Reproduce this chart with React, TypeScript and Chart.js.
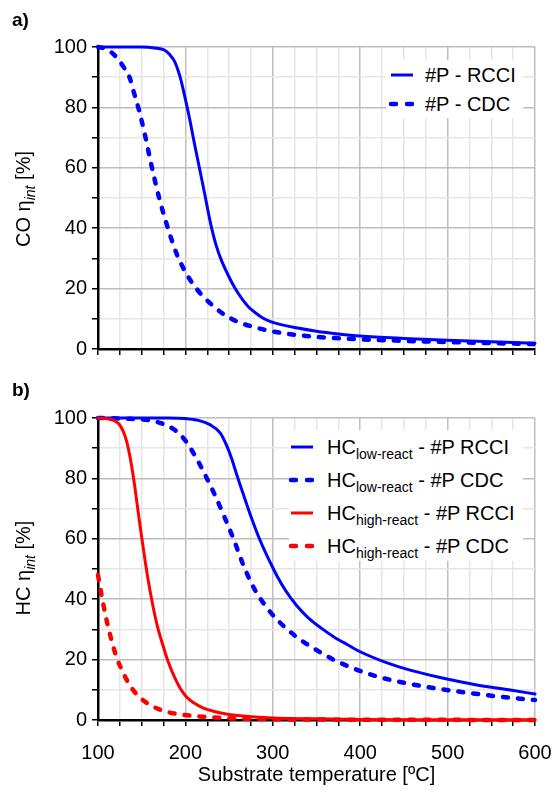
import React, { useEffect, useRef } from 'react';
import { Chart, registerables } from 'chart.js';

Chart.register(...registerables);

const FONT = '"Liberation Sans", Arial, Helvetica, sans-serif';
const BLUE = '#0000ff';
const RED = '#ff0000';

// ---- Panel a) CO ----
const coRcciT = [100, 150, 165, 176, 182, 188, 194, 199, 205, 210, 216, 222, 226, 230, 235, 241, 248, 257, 265, 272, 280, 289, 300, 312, 325, 350, 375, 400, 450, 500, 550, 600];
const coRcciV = [100, 100, 99.7, 99, 97.5, 95, 90, 84, 76, 68.5, 60, 51.5, 45.5, 40, 34.5, 29.5, 25, 20, 16.5, 14, 12, 10.2, 8.8, 7.9, 7.1, 5.9, 5, 4.3, 3.5, 2.9, 2.4, 1.9];
const coCdcT = [100, 108, 115, 122, 129, 136, 141, 147, 154, 161, 170, 180, 190, 200, 210, 220, 232, 245, 260, 278, 293, 320, 350, 400, 450, 500, 550, 600];
const coCdcV = [100, 99.5, 98.3, 96.3, 93.5, 90, 85, 79, 70.5, 61, 50, 40, 31.5, 25.5, 21, 17.5, 14.2, 11.3, 9, 7.3, 6.2, 4.9, 4, 3.2, 2.7, 2.3, 1.95, 1.65];

// ---- Panel b) HC ----
const hcLowRcciT = [100, 180, 200, 215, 228, 240, 247, 253, 259, 265, 271, 277, 284, 290, 297, 305, 315, 327, 340, 355, 370, 385, 400, 430, 456, 494, 532, 570, 600];
const hcLowRcciV = [100, 100, 99.8, 99.2, 97.8, 95, 91, 86.5, 81, 75.8, 70.7, 65.8, 60.5, 56.5, 52.2, 47.6, 42.7, 38, 34, 30.5, 27.5, 25, 22.6, 19, 16.6, 13.9, 11.7, 10, 8.6];
const hcLowCdcT = [100, 130, 158, 173, 188, 200, 211, 222, 234, 245, 255, 266, 276, 285, 295, 305, 315, 328, 342, 368, 395, 422, 449, 475, 502, 532, 563, 600];
const hcLowCdcV = [100, 99.8, 99.3, 98.2, 96, 92.5, 87.5, 81.5, 74.3, 67, 60, 51.5, 45, 40.5, 36.5, 33.2, 30.4, 27.3, 24.6, 20.2, 16.8, 14.2, 12.4, 11, 9.8, 8.7, 7.6, 6.6];
const hcHighRcciT = [100, 110, 118, 124, 129, 133, 137, 141, 145, 149, 153, 157, 162, 168, 174, 180, 187, 194, 201, 210, 220, 232, 245, 260, 280, 300, 350, 400, 500, 600];
const hcHighRcciV = [100, 99.8, 99.2, 98, 95.5, 92, 86.5, 79.5, 71, 62.5, 54.5, 47, 39, 31, 25, 19.5, 14.5, 10.5, 7.7, 5.6, 4, 2.9, 2.1, 1.5, 1, 0.7, 0.4, 0.2, 0.1, 0.05];
const hcHighCdcT = [100, 104, 108, 114, 121, 129, 136, 144, 156, 173, 190, 220, 250, 300, 400, 500, 600];
const hcHighCdcV = [48, 41.5, 35.5, 28, 21, 15.5, 11.7, 8.6, 5.6, 3.2, 2, 1.1, 0.6, 0.25, 0.1, 0.05, 0.02];

// ---- Axes ----
const xMin = 100;
const xMax = 600;
const xStep = 25;
const xLabelStep = 100;
const yMin = 0;
const yMax = 100;
const yStep = 10;
const yLabelStep = 20;

const xTitle = 'Substrate temperature [ºC]';

function pts(t: number[], v: number[]) {
  return t.map((x, i) => ({ x, y: v[i] }));
}

function ds(t: number[], v: number[], color: string, dashed: boolean) {
  return {
    data: pts(t, v),
    borderColor: color,
    backgroundColor: color,
    borderWidth: dashed ? 4.5 : 3,
    borderDash: dashed ? [5, 10] : [],
    borderCapStyle: 'round' as const,
    borderJoinStyle: 'round' as const,
    cubicInterpolationMode: 'monotone' as const,
    pointRadius: 0,
    fill: false,
    clip: false as const,
  };
}

function zeroPad(s: any) {
  s.paddingLeft = 0;
  s.paddingRight = 0;
  s.paddingTop = 0;
  s.paddingBottom = 0;
}

function makeOptions(showX: boolean, xHeight: number, padTop: number): any {
  return {
    animation: false,
    responsive: false,
    maintainAspectRatio: false,
    layout: { padding: { top: padTop, left: 8, right: 17, bottom: 0 } },
    plugins: { legend: { display: false }, tooltip: { enabled: false } },
    elements: { point: { radius: 0 } },
    scales: {
      x: {
        type: 'linear',
        min: xMin,
        max: xMax,
        ticks: {
          stepSize: xStep,
          autoSkip: false,
          maxRotation: 0,
          color: '#000',
          padding: 15,
          font: { family: FONT, size: 20 },
          callback: (v: number) => (showX && v % xLabelStep === 0 ? String(v) : ''),
        },
        grid: {
          color: (ctx: any) => (ctx.tick && ctx.tick.value % xLabelStep === 0 ? '#bebebe' : '#e6e6e6'),
          lineWidth: 1.5,
          tickColor: '#000',
          tickLength: 6,
          tickWidth: 1.5,
        },
        border: { color: '#000', width: 2.5 },
        title: {
          display: showX,
          text: xTitle,
          color: '#000',
          font: { family: FONT, size: 20 },
          padding: { top: 0, bottom: 4 },
        },
        afterFit: (s: any) => {
          s.height = xHeight;
          zeroPad(s);
        },
      },
      y: {
        type: 'linear',
        min: yMin,
        max: yMax,
        ticks: {
          stepSize: yStep,
          autoSkip: false,
          color: '#000',
          padding: 5,
          font: { family: FONT, size: 20 },
          callback: (v: number) => (v % yLabelStep === 0 ? String(v) : ''),
        },
        grid: {
          color: (ctx: any) => (ctx.tick && ctx.tick.value % yLabelStep === 0 ? '#bebebe' : '#e6e6e6'),
          lineWidth: 1.5,
          tickColor: '#000',
          tickLength: 6,
          tickWidth: 1.5,
        },
        border: { color: '#000', width: 2.5 },
        afterFit: (s: any) => {
          s.width = 90;
          zeroPad(s);
        },
      },
    },
  };
}

const abs = (o: React.CSSProperties): React.CSSProperties => ({ position: 'absolute', ...o });

function Sample({ x, cy, color, dashed }: { x: number; cy: number; color: string; dashed: boolean }) {
  return (
    <svg style={abs({ left: x - 3, top: cy - 6 })} width={30} height={12}>
      <line
        x1={3}
        y1={6}
        x2={dashed ? 24 : 25}
        y2={6}
        stroke={color}
        strokeWidth={dashed ? 4.5 : 3}
        strokeDasharray={dashed ? '5 11' : undefined}
        strokeLinecap={dashed ? 'round' : 'butt'}
      />
    </svg>
  );
}

const txt: React.CSSProperties = { fontFamily: FONT, fontSize: 20, color: '#000', whiteSpace: 'nowrap', lineHeight: '24px' };
const sub: React.CSSProperties = { fontSize: 14, verticalAlign: '-5px', lineHeight: '14px' };

export default function App() {
  const topRef = useRef<HTMLCanvasElement>(null);
  const botRef = useRef<HTMLCanvasElement>(null);

  useEffect(() => {
    const c1 = new Chart(topRef.current!, {
      type: 'line',
      data: {
        datasets: [ds(coCdcT, coCdcV, BLUE, true), ds(coRcciT, coRcciV, BLUE, false)] as any,
      },
      options: makeOptions(false, 23, 47),
    });
    const c2 = new Chart(botRef.current!, {
      type: 'line',
      data: {
        datasets: [
          ds(hcHighCdcT, hcHighCdcV, RED, true),
          ds(hcHighRcciT, hcHighRcciV, RED, false),
          ds(hcLowCdcT, hcLowCdcV, BLUE, true),
          ds(hcLowRcciT, hcLowRcciV, BLUE, false),
        ] as any,
      },
      options: makeOptions(true, 71, 46),
    });
    return () => {
      c1.destroy();
      c2.destroy();
    };
  }, []);

  const topLegend = [
    { label: '#P - RCCI', color: BLUE, dashed: false },
    { label: '#P - CDC', color: BLUE, dashed: true },
  ];
  const botLegend = [
    { main: 'HC', s: 'low-react', rest: ' - #P RCCI', color: BLUE, dashed: false },
    { main: 'HC', s: 'low-react', rest: ' - #P CDC', color: BLUE, dashed: true },
    { main: 'HC', s: 'high-react', rest: ' - #P RCCI', color: RED, dashed: false },
    { main: 'HC', s: 'high-react', rest: ' - #P CDC', color: RED, dashed: true },
  ];

  return (
    <div style={abs({ left: 0, top: 0, width: 552, height: 791, background: '#fff', overflow: 'hidden' })}>
      <canvas ref={topRef} width={552} height={372} style={abs({ left: 0, top: 0 })} />
      <canvas ref={botRef} width={552} height={419} style={abs({ left: 0, top: 372 })} />

      <div style={abs({ ...txt, left: 12, top: 8, fontWeight: 'bold', fontSize: 19 })}>a)</div>
      <div style={abs({ ...txt, left: 12, top: 378, fontWeight: 'bold', fontSize: 19 })}>b)</div>

      <div style={abs({ ...txt, left: 24, top: 199, transform: 'translate(-50%, -50%) rotate(-90deg)' })}>
        CO η<span style={{ ...sub, fontStyle: 'italic' }}>int</span> [%]
      </div>
      <div style={abs({ ...txt, left: 24, top: 568, transform: 'translate(-50%, -50%) rotate(-90deg)' })}>
        HC η<span style={{ ...sub, fontStyle: 'italic' }}>int</span> [%]
      </div>

      <div style={abs({ left: 386, top: 60, width: 137, height: 58, background: '#fff' })} />
      {topLegend.map((r, i) => (
        <React.Fragment key={'t' + i}>
          <Sample x={391} cy={75 + 29 * i} color={r.color} dashed={r.dashed} />
          <div style={abs({ ...txt, left: 425, top: 75 + 29 * i - 12 })}>{r.label}</div>
        </React.Fragment>
      ))}

      <div style={abs({ left: 289, top: 430, width: 234, height: 131, background: '#fff' })} />
      {botLegend.map((r, i) => (
        <React.Fragment key={'b' + i}>
          <Sample x={291} cy={447 + 33 * i} color={r.color} dashed={r.dashed} />
          <div style={abs({ ...txt, left: 327, top: 447 + 33 * i - 12 })}>
            {r.main}
            <span style={sub}>{r.s}</span>
            {r.rest}
          </div>
        </React.Fragment>
      ))}
    </div>
  );
}
